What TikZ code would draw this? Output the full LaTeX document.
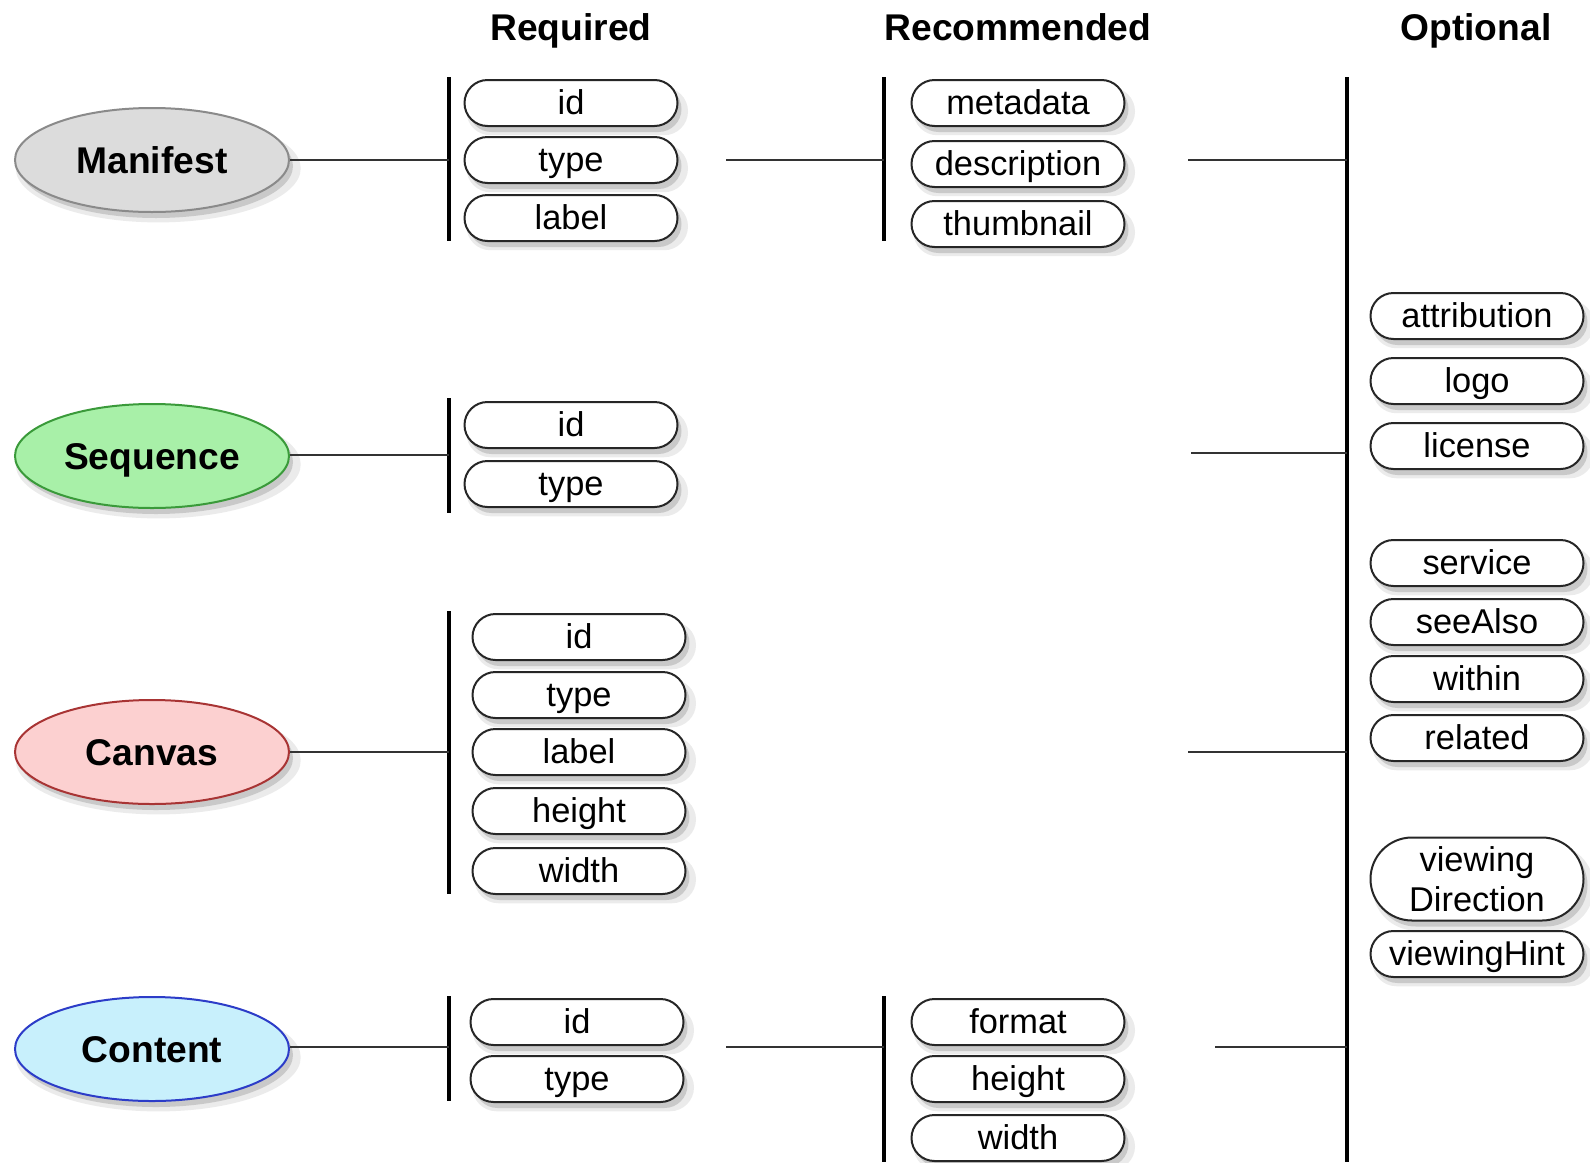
\documentclass[tikz,border=0pt]{standalone}
\usepackage{fontspec}
\setmainfont{Liberation Sans}
\usetikzlibrary{shapes.misc,shapes.geometric,shadows}
\definecolor{mfill}{HTML}{DCDCDC}\definecolor{mdraw}{HTML}{8A8A8A}
\definecolor{sfill}{HTML}{A8F0A8}\definecolor{sdraw}{HTML}{3A9A3A}
\definecolor{cfill}{HTML}{FCD0D0}\definecolor{cdraw}{HTML}{A83434}
\definecolor{tfill}{HTML}{C8F0FC}\definecolor{tdraw}{HTML}{2C3CC8}
\definecolor{lineg}{HTML}{333333}
\begin{document}
\begin{tikzpicture}[x=0.5pt,y=-0.5pt,
  softshadow/.style={
    general shadow={fill=black, opacity=0.08, shadow xshift=3pt, shadow yshift=-4pt, shadow scale=1.04},
    general shadow={fill=black, opacity=0.14, shadow xshift=2pt, shadow yshift=-3pt}},
  pill/.style={rounded rectangle, draw=black!85, line width=1pt, fill=white,
    minimum width=106.5pt, minimum height=23pt, inner sep=0pt,
    text height=14.6pt, text depth=3.4pt,
    font=\fontsize{17.2}{20}\selectfont, softshadow},
  entity/.style={ellipse, line width=1pt, minimum width=137pt, minimum height=52pt,
    inner sep=0pt, text height=17.3pt, text depth=4pt,
    font=\fontsize{18.6}{22}\selectfont\bfseries, softshadow},
  head/.style={font=\fontsize{18.6}{22}\selectfont\bfseries, inner sep=0pt,
    text height=17.3pt, text depth=4pt},
  bar/.style={line width=2.2pt, black},
  conn/.style={line width=1.4pt, lineg}]
\useasboundingbox[fill=white] (0,0) rectangle (1590,1162);

% headers
\node[head] (hreq) at (571,27) {Required};
\node[head] (hrec) at (1018,27) {Recommended};
\node[head] (hopt) at (1476,27) {Optional};

% bars (endpoints as coordinates)
\coordinate (rb1t) at (449,77);  \coordinate (rb1b) at (449,241);
\coordinate (rb2t) at (449,398); \coordinate (rb2b) at (449,513);
\coordinate (rb3t) at (449,611); \coordinate (rb3b) at (449,894);
\coordinate (rb4t) at (449,996); \coordinate (rb4b) at (449,1101);
\coordinate (cb1t) at (884,77);  \coordinate (cb1b) at (884,241);
\coordinate (cb4t) at (884,996); \coordinate (cb4b) at (884,1162);
\coordinate (obt) at (1347,77);  \coordinate (obb) at (1347,1162);
\draw[bar] (rb1t) -- (rb1b);
\draw[bar] (rb2t) -- (rb2b);
\draw[bar] (rb3t) -- (rb3b);
\draw[bar] (rb4t) -- (rb4b);
\draw[bar] (cb1t) -- (cb1b);
\draw[bar] (cb4t) -- (cb4b);
\draw[bar] (obt) -- (obb);

% entities
\node[entity, fill=mfill, draw=mdraw] (man) at (152,160) {Manifest};
\node[entity, fill=sfill, draw=sdraw] (seq) at (152,456) {Sequence};
\node[entity, fill=cfill, draw=cdraw] (can) at (152,752) {Canvas};
\node[entity, fill=tfill, draw=tdraw] (con) at (152,1049) {Content};

% connector coordinates
\coordinate (m1) at (449,160);
\coordinate (m2a) at (726,160); \coordinate (m2b) at (884,160);
\coordinate (m3a) at (1188,160); \coordinate (m3b) at (1347,160);
\coordinate (s1) at (449,455);
\coordinate (s3a) at (1191,453); \coordinate (s3b) at (1347,453);
\coordinate (c1) at (449,752);
\coordinate (c3a) at (1188,752); \coordinate (c3b) at (1347,752);
\coordinate (t1) at (449,1047);
\coordinate (t2a) at (726,1047); \coordinate (t2b) at (884,1047);
\coordinate (t3a) at (1215,1047); \coordinate (t3b) at (1347,1047);

\draw[conn] (man.east) -- (m1);
\draw[conn] (m2a) -- (m2b);
\draw[conn] (m3a) -- (m3b);
\draw[conn] (seq.east |- s1) -- (s1);
\draw[conn] (s3a) -- (s3b);
\draw[conn] (can.east) -- (c1);
\draw[conn] (c3a) -- (c3b);
\draw[conn] (con.east |- t1) -- (t1);
\draw[conn] (t2a) -- (t2b);
\draw[conn] (t3a) -- (t3b);

% Manifest required
\node[pill] (mid) at (571,103) {id};
\node[pill] (mtype) at (571,160) {type};
\node[pill] (mlabel) at (571,218) {label};
% Manifest recommended
\node[pill] (mmeta) at (1018,103) {metadata};
\node[pill] (mdesc) at (1018,164) {description};
\node[pill] (mthumb) at (1018,224) {thumbnail};
% Sequence required
\node[pill] (sid) at (571,425) {id};
\node[pill] (stype) at (571,484) {type};
% Canvas required
\node[pill] (cid) at (579,637) {id};
\node[pill] (ctype) at (579,695) {type};
\node[pill] (clabel) at (579,752) {label};
\node[pill] (cheight) at (579,811) {height};
\node[pill] (cwidth) at (579,871) {width};
% Content required
\node[pill] (tid) at (577,1022) {id};
\node[pill] (ttype) at (577,1079) {type};
% Content recommended
\node[pill] (tformat) at (1018,1022) {format};
\node[pill] (theight) at (1018,1079) {height};
\node[pill] (twidth) at (1018,1138) {width};
% Optional
\node[pill] (oattr) at (1477,316) {attribution};
\node[pill] (ologo) at (1477,381) {logo};
\node[pill] (olic) at (1477,446) {license};
\node[pill] (oserv) at (1477,563) {service};
\node[pill] (osee) at (1477,622) {seeAlso};
\node[pill] (owithin) at (1477,679) {within};
\node[pill] (orel) at (1477,738) {related};
\node[pill, minimum height=41.5pt, align=center, text height={}, text depth={}] (ovdir) at (1477,879) {viewing\\Direction};
\node[pill] (ovhint) at (1477,954) {viewingHint};
\end{tikzpicture}
\end{document}
